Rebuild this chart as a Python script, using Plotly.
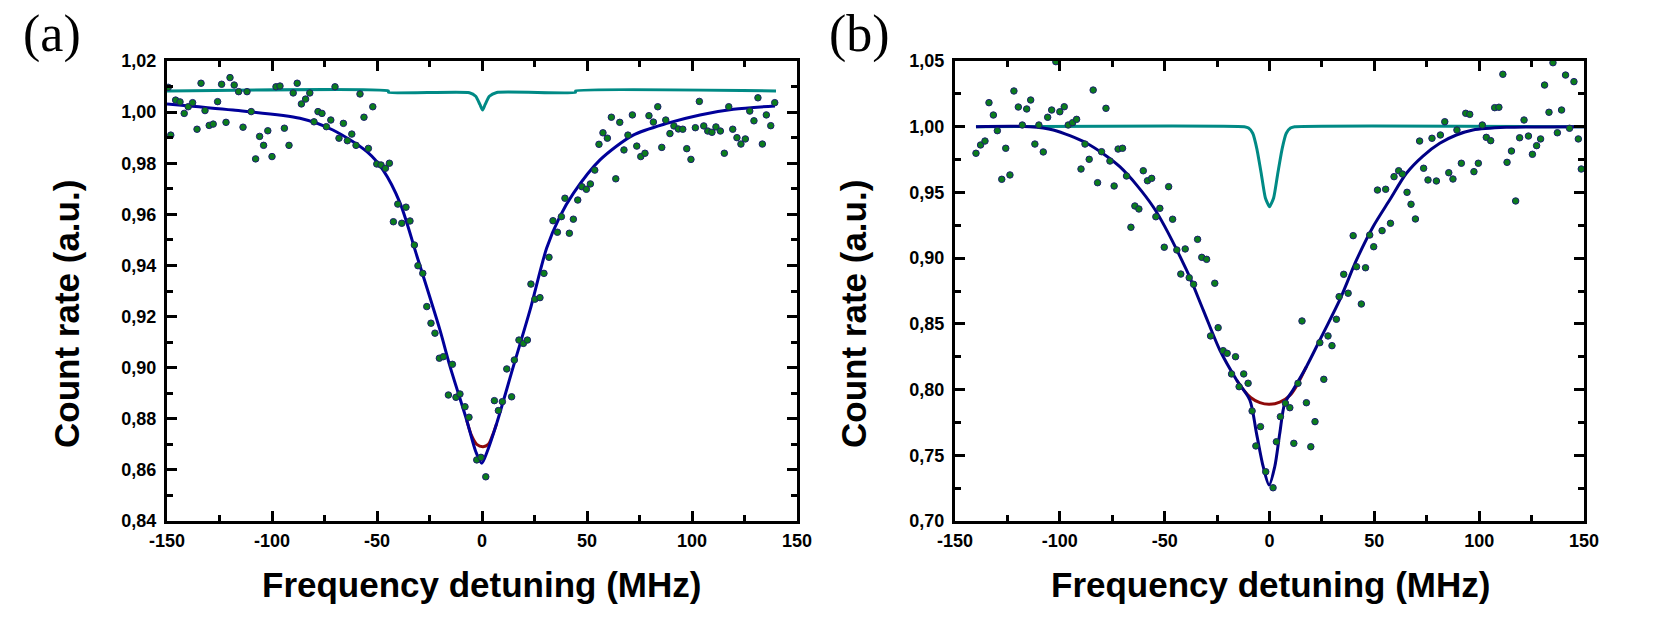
import plotly.graph_objects as go

# ---------------- Panel (a) data ----------------
a_x = [-149.4, -148.2, -145.9, -143.8, -141.8, -139.9, -137.8, -135.7, -133.8, -131.9,
       -129.9, -128.0, -125.9, -124.0, -121.9, -120.0, -118.0, -115.9, -113.8, -111.9,
       -109.9, -107.8, -105.9, -104.0, -102.0, -100.0, -98.1, -96.2, -94.1, -91.9,
       -89.9, -88.0, -86.0, -84.0, -82.0, -80.0, -78.1, -76.2, -74.1, -72.0,
       -70.0, -68.1, -66.0, -64.1, -62.0, -60.0, -58.1, -56.2, -54.1, -52.0,
       -50.1, -48.1, -46.0, -44.1, -42.2, -40.1, -38.2, -36.2, -34.3, -32.2,
       -30.5, -28.2, -26.3, -24.3, -22.4, -20.3, -18.4, -16.0, -14.1, -12.4,
       -10.5, -8.1, -6.2, -2.5, -0.5, 1.8, 5.9, 7.8, 9.7, 11.8,
       14.1, 15.4, 17.6, 19.7, 21.6, 23.3, 25.2, 27.6, 29.5, 31.9,
       33.8, 35.9, 37.8, 39.5, 41.6, 43.5, 45.6, 47.6, 49.7, 51.6,
       53.7, 55.7, 57.6, 59.7, 61.6, 63.7, 65.6, 67.6, 69.5, 71.6,
       73.7, 75.6, 77.6, 79.5, 81.6, 83.7, 85.6, 87.5, 89.5, 91.4,
       93.5, 95.6, 97.5, 99.5, 101.6, 103.5, 105.6, 107.5, 109.5, 111.4,
       113.5, 115.4, 117.5, 119.4, 121.4, 123.3, 125.4, 127.5, 129.5, 131.4,
       133.5, 135.4, 137.5, 139.4]
a_y = [1.0097, 0.9910, 1.0047, 1.0040, 0.9995, 1.0021, 1.0037, 0.9933, 1.0113, 1.0006,
       0.9948, 0.9953, 1.0041, 1.0109, 0.9960, 1.0135, 1.0106, 1.0080, 0.9941, 1.0080,
       1.0002, 0.9817, 0.9905, 0.9870, 0.9927, 0.9826, 1.0099, 1.0102, 0.9937, 0.9870,
       1.0075, 1.0113, 1.0032, 1.0051, 1.0075, 0.9962, 1.0002, 0.9995, 0.9943, 0.9969,
       1.0099, 0.9898, 0.9956, 0.9888, 0.9914, 0.9870, 1.0071, 0.9980, 0.9858, 1.0021,
       0.9797, 0.9793, 0.9780, 0.9800, 0.9571, 0.9640, 0.9565, 0.9628, 0.9574, 0.9480,
       0.9399, 0.9369, 0.9239, 0.9174, 0.9135, 0.9037, 0.9043, 0.8893, 0.9013, 0.8884,
       0.8897, 0.8847, 0.8806, 0.8639, 0.8649, 0.8573, 0.8871, 0.8832, 0.8867, 0.8995,
       0.8886, 0.9030, 0.9108, 0.9095, 0.9108, 0.9327, 0.9268, 0.9274, 0.9369, 0.9432,
       0.9575, 0.9530, 0.9591, 0.9663, 0.9526, 0.9581, 0.9656, 0.9708, 0.9698, 0.9719,
       0.9773, 0.9874, 0.9919, 0.9898, 0.9980, 0.9739, 0.9960, 0.9852, 0.9910, 0.9989,
       0.9867, 0.9826, 0.9839, 0.9986, 0.9961, 1.0021, 0.9862, 0.9969, 0.9916, 0.9946,
       0.9934, 0.9933, 0.9857, 0.9815, 0.9939, 1.0042, 0.9946, 0.9926, 0.9921, 0.9942,
       0.9926, 0.9839, 1.0021, 0.9933, 0.9900, 0.9875, 0.9895, 1.0004, 0.9966, 1.0056,
       0.9875, 0.9989, 0.9947, 1.0037]

# full fit (navy)
a_fit_x = [-150.0, -118.6, -86.7, -71.0, -54.8, -47.1, -39.0, -31.0, -20.0, -15.2, -7.3, -2.9,
           -0.1, 2.4, 7.0, 14.9, 22.9, 30.8, 37.0, 43.5, 56.2, 72.0, 88.0, 103.8, 119.7, 139.5]
a_fit_y = [1.0032, 1.0008, 0.9976, 0.9930, 0.9845, 0.9773, 0.9644, 0.9437, 0.9147, 0.9004, 0.8795, 0.8670,
           0.8626, 0.8670, 0.8782, 0.9004, 0.9226, 0.9468, 0.9590, 0.9682, 0.9813, 0.9910, 0.9956, 0.9989, 1.0011, 1.0024]
# broad component (dark red)
a_broad_x = [-7.3, -5.0, -2.5, 0.5, 3.0, 5.0, 7.0]
a_broad_y = [0.8795, 0.8735, 0.8700, 0.8691, 0.8700, 0.8735, 0.8782]
# narrow component (teal)
a_narrow_x = [-150.0, -44.6, -44.5, -6.0, -3.0, -1.0, 0.3, 1.5, 3.5, 7.0, 44.5, 44.6, 140.0]
a_narrow_y = [1.0083, 1.0083, 1.0077, 1.0076, 1.0062, 1.0030, 1.0008, 1.0030, 1.0062, 1.0077, 1.0077, 1.0083, 1.0083]

# ---------------- Panel (b) data ----------------
b_x = [-140.0, -137.8, -135.7, -133.8, -131.7, -129.8, -127.7, -125.8, -123.8, -121.9,
       -119.8, -117.9, -115.8, -113.9, -111.9, -110.0, -107.9, -105.8, -103.9, -101.9,
       -100.0, -97.9, -96.0, -93.9, -92.0, -89.9, -88.0, -86.0, -84.1, -82.0,
       -80.1, -78.0, -76.1, -74.1, -72.2, -70.1, -68.2, -66.1, -64.2, -62.3,
       -60.2, -58.2, -56.2, -54.2, -52.3, -50.2, -48.1, -46.2, -44.2, -42.3,
       -40.2, -38.3, -36.2, -34.3, -32.3, -30.0, -28.1, -26.1, -24.5, -22.1,
       -20.2, -18.1, -16.2, -14.5, -12.3, -10.2, -8.3, -6.5, -4.3, -1.8,
       1.7, 3.3, 5.2, 7.6, 9.7, 11.6, 13.6, 15.5, 17.6, 19.7,
       21.7, 24.0, 25.9, 27.9, 29.8, 31.9, 33.2, 35.4, 37.5, 39.9,
       41.5, 43.8, 45.8, 47.8, 49.7, 51.5, 53.7, 55.4, 57.7, 59.4,
       61.6, 63.4, 65.6, 67.5, 69.6, 71.6, 73.5, 75.6, 77.5, 79.6,
       81.5, 83.6, 85.5, 87.5, 89.4, 91.5, 93.6, 95.5, 97.5, 99.6,
       101.5, 103.4, 105.5, 107.4, 109.4, 111.3, 113.3, 115.4, 117.4, 119.3,
       121.4, 123.5, 125.4, 127.4, 129.3, 131.2, 133.3, 135.2, 137.3, 139.3,
       141.2, 143.1, 145.2, 147.3, 148.7]
b_y = [0.9798, 0.9861, 0.9891, 1.0183, 1.0089, 0.9970, 0.9600, 0.9836, 0.9633, 1.0272,
       1.0150, 1.0013, 1.0135, 1.0203, 0.9868, 1.0013, 0.9808, 1.0072, 1.0127, 1.0495,
       1.0114, 1.0152, 1.0013, 1.0031, 1.0056, 0.9678, 0.9868, 0.9752, 1.0279, 0.9574,
       0.9810, 1.0140, 0.9739, 0.9549, 0.9830, 0.9836, 0.9625, 0.9235, 0.9397, 0.9374,
       0.9665, 0.9589, 0.9607, 0.9315, 0.9379, 0.9083, 0.9544, 0.9296, 0.9062, 0.8879,
       0.9070, 0.8851, 0.8801, 0.9143, 0.9006, 0.8991, 0.8408, 0.8809, 0.8471, 0.8296,
       0.8276, 0.8119, 0.8250, 0.8022, 0.8119, 0.8048, 0.7837, 0.7571, 0.7718, 0.7375,
       0.7253, 0.7603, 0.7794, 0.7896, 0.7862, 0.7591, 0.8048, 0.8522, 0.7900, 0.7565,
       0.7756, 0.8357, 0.8078, 0.8408, 0.8334, 0.8535, 0.8707, 0.8877, 0.8733, 0.9171,
       0.8935, 0.8651, 0.8927, 0.9176, 0.9087, 0.9518, 0.9209, 0.9524, 0.9265, 0.9620,
       0.9665, 0.9640, 0.9501, 0.9410, 0.9298, 0.9891, 0.9684, 0.9595, 0.9912, 0.9587,
       0.9937, 1.0038, 0.9650, 0.9602, 0.9975, 0.9722, 1.0102, 1.0094, 0.9658, 0.9722,
       1.0013, 0.9919, 0.9894, 1.0145, 1.0148, 1.0399, 0.9729, 0.9815, 0.9435, 0.9916,
       1.0051, 0.9929, 0.9790, 0.9856, 0.9907, 1.0317, 1.0110, 1.0487, 0.9954, 1.0127,
       1.0393, 0.9988, 1.0343, 0.9907, 0.9678]

b_fit_x = [-140.0, -114.3, -103.1, -87.2, -71.4, -55.5, -39.6, -31.6, -23.7, -15.7, -9.4, -6.2,
           -3.0, -0.2, 2.5, 4.9, 7.3, 11.2, 17.6, 25.6, 33.5, 41.5, 49.4, 57.3, 65.3, 73.2,
           81.2, 89.1, 97.0, 112.9, 150.0]
b_fit_y = [1.0000, 1.0000, 0.9975, 0.9874, 0.9696, 0.9391, 0.8910, 0.8605, 0.8301, 0.8073, 0.7921, 0.7667,
           0.7413, 0.7274, 0.7413, 0.7667, 0.7896, 0.7997, 0.8174, 0.8428, 0.8682, 0.8986, 0.9239, 0.9442, 0.9646, 0.9777,
           0.9874, 0.9937, 0.9975, 0.9995, 1.0000]
b_broad_x = [-15.7, -12.0, -9.0, -4.6, 0.0, 4.9, 9.7, 13.0, 17.6]
b_broad_y = [0.8073, 0.7990, 0.7940, 0.7900, 0.7888, 0.7905, 0.7955, 0.8030, 0.8174]
b_narrow_x = [-140.0, -12.0, -10.0, -8.0, -6.0, -4.0, -2.0, 0.0, 2.0, 4.0, 6.0, 8.0, 10.0, 12.0, 150.0]
b_narrow_y = [1.0000, 1.0000, 0.9990, 0.9950, 0.9830, 0.9650, 0.9460, 0.9391, 0.9460, 0.9650, 0.9830, 0.9950, 0.9990, 1.0000, 1.0000]

x_tickvals = [-150, -100, -50, 0, 50, 100, 150]
x_ticktext = ["-150", "-100", "-50", "0", "50", "100", "150"]
x_minor = [-125, -75, -25, 25, 75, 125]

x_title = "Frequency detuning (MHz)"
y_title = "Count rate (a.u.)"

# ---------------- Figure ----------------
W, H = 1674, 639
GREEN = "#0b7d1c"
EDGE = "#1c1f70"
NAVY = "#00009a"
TEAL = "#008a85"
RED = "#8e0a0a"

fig = go.Figure()

def add_panel(xa, ya, sx, sy, fx, fy, bx, by, nx, ny, navy):
    fig.add_trace(go.Scatter(x=bx, y=by, mode="lines", xaxis=xa, yaxis=ya,
                             line=dict(color=RED, width=3, shape="spline", smoothing=0.8),
                             showlegend=False, hoverinfo="skip"))
    fig.add_trace(go.Scatter(x=nx, y=ny, mode="lines", xaxis=xa, yaxis=ya,
                             line=dict(color=TEAL, width=3, shape="spline", smoothing=0.5),
                             showlegend=False, hoverinfo="skip"))
    fig.add_trace(go.Scatter(x=fx, y=fy, mode="lines", xaxis=xa, yaxis=ya,
                             line=dict(color=navy, width=3, shape="spline", smoothing=0.8),
                             showlegend=False, hoverinfo="skip"))
    fig.add_trace(go.Scatter(x=sx, y=sy, mode="markers", xaxis=xa, yaxis=ya,
                             marker=dict(size=6.5, color=GREEN, line=dict(color=EDGE, width=1)),
                             showlegend=False))

add_panel("x", "y", a_x, a_y, a_fit_x, a_fit_y, a_broad_x, a_broad_y, a_narrow_x, a_narrow_y, NAVY)
add_panel("x2", "y2", b_x, b_y, b_fit_x, b_fit_y, b_broad_x, b_broad_y, b_narrow_x, b_narrow_y, "#000085")

tickfont = dict(family="Liberation Sans, Arial, sans-serif", size=18, color="black", weight="bold")
common_axis = dict(showline=True, linecolor="black", linewidth=3, mirror="allticks",
                   ticks="inside", ticklen=10, tickwidth=2.5, tickcolor="black",
                   showgrid=False, zeroline=False, tickfont=tickfont, automargin=False)

def xaxis_cfg(domain, anchor):
    return dict(domain=domain, anchor=anchor, range=[-150, 150], tickmode="array",
                tickvals=x_tickvals, ticktext=x_ticktext, ticklabelstandoff=1,
                minor=dict(tickmode="array", tickvals=x_minor, ticks="inside", ticklen=6,
                           tickwidth=2.5, tickcolor="black"),
                **common_axis)

def yaxis_cfg(domain, anchor, rng, dtick):
    return dict(domain=domain, anchor=anchor, range=rng, tickmode="linear", tick0=rng[0],
                dtick=dtick, tickformat=".2f", ticklabelstandoff=4,
                minor=dict(tickmode="linear", tick0=rng[0], dtick=dtick / 2, ticks="inside",
                           ticklen=6, tickwidth=2.5, tickcolor="black"),
                **common_axis)

ydom = [118 / H, 578 / H]
fig.update_layout(
    template="none",
    width=W, height=H,
    margin=dict(l=0, r=0, t=0, b=0, autoexpand=False),
    paper_bgcolor="white", plot_bgcolor="white",
    separators=",.",
    xaxis=xaxis_cfg([167 / W, 797 / W], "y"),
    yaxis=yaxis_cfg(ydom, "x", [0.84, 1.02], 0.02),
    xaxis2=xaxis_cfg([955 / W, 1584 / W], "y2"),
    yaxis2=yaxis_cfg(ydom, "x2", [0.70, 1.05], 0.05),
)

title_font = dict(family="Liberation Sans, Arial, sans-serif", size=35, color="black", weight="bold")
label_font = dict(family="Liberation Serif, Times New Roman, serif", size=52, color="black")
annots = [
    dict(text=x_title, x=481 / W, y=1 - 584 / H, font=title_font),
    dict(text=x_title, x=1270 / W, y=1 - 584 / H, font=title_font),
    dict(text=y_title, x=66 / W, y=1 - 314 / H, font=title_font, textangle=-90),
    dict(text=y_title, x=853 / W, y=1 - 314 / H, font=title_font, textangle=-90),
    dict(text="(a)", x=52 / W, y=1 - 34 / H, font=label_font),
    dict(text="(b)", x=859 / W, y=1 - 34 / H, font=label_font),
]
for a in annots:
    fig.add_annotation(xref="paper", yref="paper", xanchor="center", yanchor="middle",
                       showarrow=False, **a)

fig.write_html("out.html", config={"displayModeBar": False},
               post_script="document.body.style.margin='0';document.body.style.overflow='hidden';")
